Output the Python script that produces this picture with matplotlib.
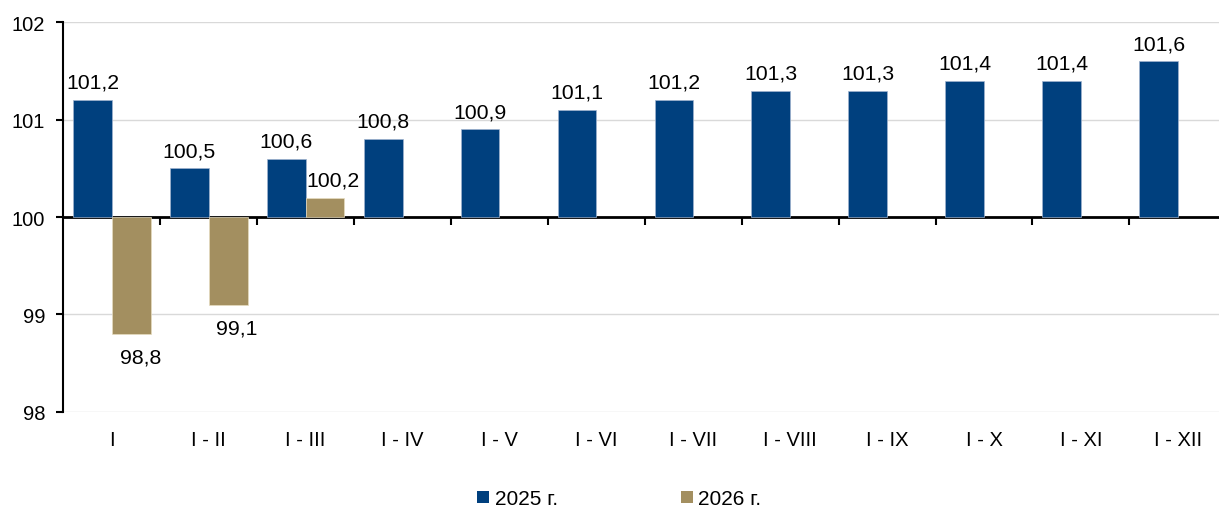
import matplotlib
matplotlib.use('Agg')
import matplotlib.pyplot as plt
from matplotlib.patches import Patch
import numpy as np

categories = ['I', 'I - II', 'I - III', 'I - IV', 'I - V', 'I - VI', 'I - VII',
              'I - VIII', 'I - IX', 'I - X', 'I - XI', 'I - XII']
values_2025 = [101.2, 100.5, 100.6, 100.8, 100.9, 101.1, 101.2, 101.3, 101.3, 101.4, 101.4, 101.6]
values_2026 = [98.8, 99.1, 100.2]
series_names = ['2025 г.', '2026 г.']
y_ticks = [98, 99, 100, 101, 102]
base = 100

BLUE = '#00407E'
TAN = '#A38F60'

plt.rcParams['font.family'] = ['Liberation Sans', 'DejaVu Sans']
plt.rcParams['font.size'] = 14.5

fig = plt.figure(figsize=(12.19, 5.10), dpi=100)
ax = fig.add_axes([0.052, 0.191, 1.006 - 0.052, 0.954 - 0.191])

x = np.arange(len(categories))
w = 0.4
v25 = np.array(values_2025)
v26 = np.array(values_2026)
x26 = x[:len(v26)]

ax.bar(x - w / 2, v25 - base, bottom=base, width=w, color=BLUE,
       edgecolor='#9fb3cf', linewidth=0.5, zorder=3)
ax.bar(x26 + w / 2, v26 - base, bottom=base, width=w, color=TAN,
       edgecolor='#e6dcc0', linewidth=0.5, zorder=3)

def fmt(v):
    return f'{v:.1f}'.replace('.', ',')

LBL = 15.3
for xi, v in zip(x, v25):
    ax.annotate(fmt(v), (xi - w / 2, v), xytext=(0, 6), textcoords='offset points',
                ha='center', va='bottom', color='black', fontsize=LBL)
for xi, v in zip(x26, v26):
    if v >= base:
        ax.annotate(fmt(v), (xi + w / 2, v), xytext=(6, 6), textcoords='offset points',
                    ha='center', va='bottom', color='black', fontsize=LBL)
    else:
        ax.annotate(fmt(v), (xi + w / 2, v), xytext=(6.5, -10), textcoords='offset points',
                    ha='center', va='top', color='black', fontsize=LBL)

ax.set_xlim(-0.5, len(categories) - 0.5)
ax.set_ylim(min(y_ticks), max(y_ticks))
ax.set_yticks(y_ticks)
ax.yaxis.grid(True, color='#d9d9d9', linewidth=1)
ax.set_axisbelow(True)
for val, gl in zip(y_ticks, ax.get_ygridlines()):
    if val == base:
        gl.set_visible(False)

for s in ['top', 'right', 'bottom']:
    ax.spines[s].set_visible(False)
ax.spines['left'].set_color('black')
ax.spines['left'].set_linewidth(1.5)
ax.tick_params(axis='y', length=5, width=1.5, pad=8, colors='black')

ax.set_xticks(x)
ax.set_xticklabels(categories)
ax.tick_params(axis='x', length=0, pad=13)

# category axis line at 100 with boundary tick marks
sec = ax.secondary_xaxis((base - min(y_ticks)) / (max(y_ticks) - min(y_ticks)))
sec.set_alignment('bottom')
sec.set_xticks(np.arange(0.5, len(categories) - 0.5, 1))
sec.tick_params(length=6, width=1.5, direction='out', labelbottom=False, labeltop=False)
sec.spines['bottom'].set_linewidth(2)
sec.spines['bottom'].set_color('black')

handles = [Patch(facecolor=BLUE, edgecolor='none'), Patch(facecolor=TAN, edgecolor='none')]
fig.legend(handles, series_names, loc='center', bbox_to_anchor=(0.508, 0.02), ncol=2,
           frameon=False, handlelength=0.57, handleheight=0.57, handletextpad=0.28,
           columnspacing=5.9, fontsize=15, borderpad=0.1)

fig.savefig('out.png', dpi=100)
